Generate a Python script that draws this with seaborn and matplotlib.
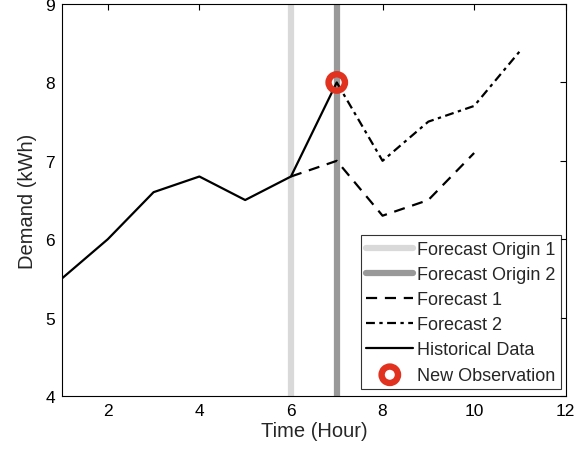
import matplotlib
matplotlib.use("Agg")
import matplotlib.pyplot as plt
import seaborn as sns
import pandas as pd

hist_x = [1, 2, 3, 4, 5, 6, 7]
hist_y = [5.5, 6.0, 6.6, 6.8, 6.5, 6.8, 8.0]
f1_x = [6, 7, 8, 9, 10]
f1_y = [6.8, 7.0, 6.3, 6.5, 7.1]
f2_x = [7, 8, 9, 10, 11]
f2_y = [8.0, 7.0, 7.5, 7.7, 8.4]
origin1 = 6
origin2 = 7
obs_x = [7]
obs_y = [8.0]

sns.set_style("white")
plt.rcParams['font.family'] = ['Liberation Sans', 'DejaVu Sans']

fig = plt.figure(figsize=(5.81, 4.6), dpi=100)
ax = fig.add_axes([0.1067, 0.137, 0.867, 0.852])

ax.axvline(origin1, color='#d9d9d9', lw=4.5, label='Forecast Origin 1', zorder=1)
ax.axvline(origin2, color='#999999', lw=4.5, label='Forecast Origin 2', zorder=1)

sns.lineplot(x=f1_x, y=f1_y, ax=ax, color='black', lw=1.6, label='Forecast 1')
ax.lines[-1].set_dashes([5, 3.5])
sns.lineplot(x=f2_x, y=f2_y, ax=ax, color='black', lw=1.6, label='Forecast 2')
ax.lines[-1].set_dashes([4, 2, 1.5, 2])
sns.lineplot(x=hist_x, y=hist_y, ax=ax, color='black', lw=1.6, label='Historical Data')
sns.scatterplot(x=obs_x, y=obs_y, ax=ax, s=140, facecolor='none', edgecolor='#e0321f',
                linewidth=4.6, label='New Observation', zorder=5)

ax.set_xlim(1, 12)
ax.set_ylim(4, 9)
ax.set_xticks([2, 4, 6, 8, 10, 12])
ax.set_yticks([4, 5, 6, 7, 8, 9])
ax.tick_params(direction='in', length=4, width=0.8, labelsize=12.5, top=True, right=True,
               labeltop=False, labelright=False, colors='black', pad=5)
for s in ax.spines.values():
    s.set_visible(True)
    s.set_color('black')
    s.set_linewidth(0.8)
ax.set_xlabel('Time (Hour)', fontsize=14.5, labelpad=2)
ax.set_ylabel('Demand (kWh)', fontsize=14.5, labelpad=6)

leg = ax.legend(loc='lower right', bbox_to_anchor=(0.99, 0.018), fontsize=13,
                frameon=True, fancybox=False, edgecolor='black', handlelength=2.6,
                handletextpad=0.2, borderpad=0.3, labelspacing=0.45, borderaxespad=0)
leg.get_frame().set_linewidth(0.8)

fig.savefig('out.png', dpi=100)
